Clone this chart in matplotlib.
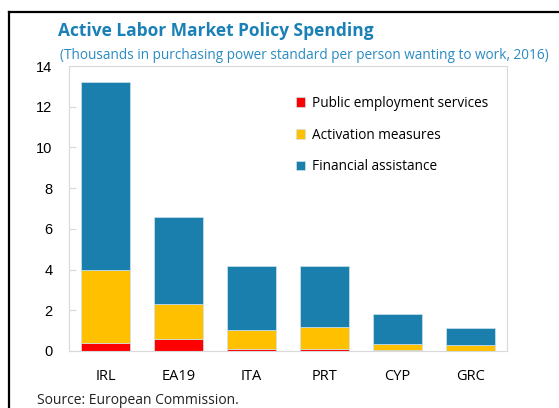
import numpy as np
import matplotlib.pyplot as plt
from matplotlib.lines import Line2D

# values
countries = ["IRL", "EA19", "ITA", "PRT", "CYP", "GRC"]
public_services = [0.41, 0.57, 0.10, 0.10, 0.07, 0.01]
activation = [3.57, 1.75, 0.93, 1.06, 0.27, 0.28]
financial = [9.22, 4.28, 3.16, 3.01, 1.46, 0.82]

labels = ["Public employment services", "Activation measures", "Financial assistance"]
colors = ["#ff0000", "#ffc000", "#1b7fad"]

fig = plt.figure(figsize=(5.59, 4.08), dpi=100)
ax = fig.add_axes([69 / 559, 1 - 351 / 408, 438 / 559, 285 / 408])

x = np.arange(len(countries))
bottom = np.zeros(len(countries))
handles = []
for vals, lab, col in zip([public_services, activation, financial], labels, colors):
    b = ax.bar(x, vals, bottom=bottom, width=0.67, color=col,
               edgecolor="#cfe3ee", linewidth=0.5, label=lab)
    bottom += np.array(vals)
    handles.append(b)

ax.set_xlim(-0.5, 5.5)
ax.set_ylim(0, 14)
ax.set_yticks(range(0, 15, 2))
ax.set_xticks(x)
ax.set_xticklabels(countries, fontfamily="Open Sans", fontsize=10.5)
for t in ax.get_yticklabels():
    t.set_fontfamily("Liberation Sans")
    t.set_fontsize(10.5)
ax.tick_params(axis="y", direction="in", length=5, color="#d9d9d9", pad=12)
ax.tick_params(axis="x", length=0, pad=13)
for s in ax.spines.values():
    s.set_color("#d9d9d9")
    s.set_linewidth(0.8)

ax.legend(handles=handles, loc="upper left", bbox_to_anchor=(0.49, 0.938),
          frameon=False, handlelength=0.7, handleheight=0.7, handletextpad=0.45,
          labelspacing=1.22, prop={"family": "Open Sans", "size": 9.8})

fig.text(58 / 559, 1 - 36 / 408, "Active Labor Market Policy Spending",
         fontfamily="Open Sans", fontweight="bold", fontsize=12.5, color="#1a80b6")
fig.text(60 / 559, 1 - 59 / 408,
         "(Thousands in purchasing power standard per person wanting to work, 2016)",
         fontfamily="Open Sans", fontsize=9.8, color="#2a8ac2")
fig.text(37 / 559, 1 - 404 / 408, "Source: European Commission.",
         fontfamily="Open Sans", fontsize=10, color="#222222")

# black frame around the panel (left and top edges visible)
fig.add_artist(Line2D([8.5 / 559, 8.5 / 559], [0, 1 - 12 / 408], color="black", lw=1.6,
                      transform=fig.transFigure))
fig.add_artist(Line2D([8.5 / 559, 1], [1 - 12 / 408, 1 - 12 / 408], color="black", lw=1.6,
                      transform=fig.transFigure))

fig.savefig("out.png", dpi=100)
